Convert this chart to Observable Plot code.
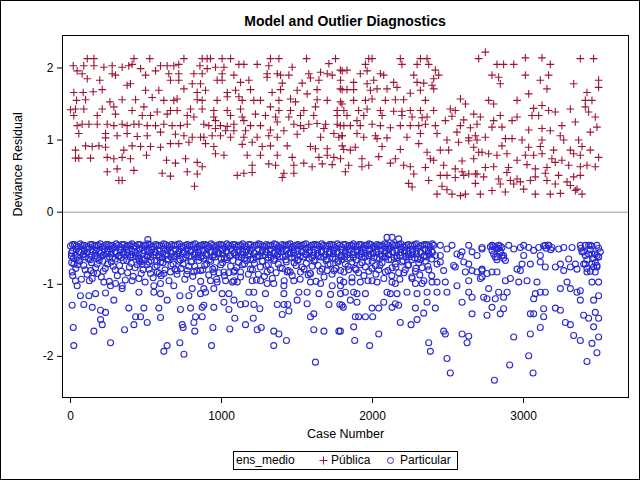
<!DOCTYPE html>
<html>
<head>
<meta charset="utf-8">
<script src="https://cdn.jsdelivr.net/npm/d3@7"></script>
<script src="https://cdn.jsdelivr.net/npm/@observablehq/plot@0.6"></script>
<style>
  html, body { margin: 0; padding: 0; background: #fff; }
  #wrap { position: relative; width: 640px; height: 480px; overflow: hidden; font-family: "Liberation Sans", Arial, sans-serif; background: #fff; }
  #border { position: absolute; left: 0; top: 0; width: 640px; height: 480px; box-sizing: border-box; border: 1px solid #000; pointer-events: none; z-index: 5; }
  #chart { position: absolute; left: 0; top: 0; }
  #title { position: absolute; left: 62px; top: 14px; width: 566px; text-align: center; font-weight: bold; font-size: 14px; line-height: 14px; color: #000; z-index: 3; }
  #legend { position: absolute; left: 233px; top: 451px; width: 225px; height: 19px; box-sizing: border-box; border: 1px solid #000; font-size: 12px; line-height: 17px; color: #000; background: #fff; }
  #legend span, #legend svg { position: absolute; }
</style>
</head>
<body>
<div id="wrap">
  <div id="chart"></div>
  <div id="title">Model and Outlier Diagnostics</div>
  <div id="legend"></div>
  <div id="border"></div>
</div>
<script>
// ---- data (case number, deviance residual) ----
const legendTitle = "ens_medio";
const seriesNames = ["Pública", "Particular"];
const xTicks = [0, 1000, 2000, 3000];
const yTicks = [-2, -1, 0, 1, 2];

const publica = [
[111,2.13],[155,2.13],[420,2.13],[525,2.13],[751,2.13],
[18,2.03],[88,2.03],[155,2.03],[221,2.01],[276,2.03],[342,2.01],[386,2.03],[408,2.05],[464,1.99],[596,2.03],[640,2.03],[684,2.03],[717,2.05],[857,2.03],
[44,1.96],[77,1.92],[276,1.92],[298,1.90],[497,1.90],[563,1.96],[651,1.92],[717,1.92],[817,1.92],
[111,1.85],[194,1.83],[662,1.83],[717,1.83],
[375,1.76],[397,1.78],[806,1.78],[861,1.78],
[22,1.66],[84,1.66],[150,1.67],[210,1.70],[497,1.69],[585,1.69],[751,1.71],[839,1.66],
[40,1.55],[100,1.56],[261,1.53],[342,1.56],[431,1.56],[541,1.59],[618,1.55],[684,1.55],[706,1.57],[839,1.56],
[0,1.42],[33,1.43],[88,1.43],[210,1.43],[287,1.46],[408,1.41],[486,1.46],[574,1.39],[662,1.41],[706,1.41],[795,1.43],
[22,1.34],[177,1.34],[298,1.36],[475,1.34],[530,1.34],[640,1.36],[773,1.34],[817,1.32],
[44,1.20],[77,1.22],[122,1.22],[177,1.22],[243,1.22],[287,1.20],[342,1.22],[375,1.20],[420,1.22],[453,1.22],[508,1.20],[563,1.20],[618,1.22],[673,1.20],[728,1.20],[773,1.22],
[55,1.09],[232,1.09],[309,1.06],[375,1.09],[442,1.05],[508,1.06],[596,1.11],[695,1.08],[751,1.06],[806,1.04],[861,1.04],[232,1.03],
[33,0.86],[100,0.92],[144,0.91],[188,0.92],[232,0.90],[353,0.86],[408,0.92],[464,0.91],[530,0.91],[596,0.90],[662,0.95],[717,0.95],[784,0.97],
[33,0.75],[55,0.75],[133,0.75],[243,0.76],[287,0.74],[342,0.76],[397,0.74],[503,0.79],[636,0.72],[695,0.68],[762,0.74],[839,0.69],
[243,0.56],[309,0.60],[420,0.58],[607,0.54],[662,0.50],[773,0.56],[839,0.53],
[320,0.44],[342,0.44],[821,0.36],
[872,2.13],[905,2.13],[927,2.13],[1004,2.13],[1060,2.13],[1324,2.13],[1380,2.13],[1563,2.13],[1755,2.13],
[905,1.99],[960,2.01],[1016,2.01],[1115,2.05],[1148,2.05],[1236,2.05],[1313,2.03],[1468,2.01],[1711,2.06],
[872,1.92],[1004,1.92],[1082,1.90],[1302,1.92],[1369,1.92],[1391,1.90],[1446,1.90],[1578,1.92],[1656,1.94],[1700,1.92],[1733,1.90],[1799,1.96],
[971,1.83],[1004,1.83],[1126,1.80],[1181,1.83],[1302,1.87],[1402,1.79],[1534,1.79],[1589,1.86],[1645,1.83],[1788,1.83],
[894,1.69],[1038,1.66],[1093,1.69],[1192,1.70],[1335,1.66],[1391,1.70],[1501,1.69],[1567,1.64],[1633,1.70],[1799,1.70],
[872,1.55],[971,1.55],[1038,1.60],[1115,1.60],[1137,1.55],[1214,1.55],[1258,1.55],[1380,1.55],[1457,1.57],[1490,1.53],[1633,1.56],[1700,1.55],[1788,1.53],
[872,1.43],[949,1.41],[1038,1.41],[1126,1.43],[1324,1.46],[1380,1.41],[1457,1.41],[1545,1.41],[1622,1.46],[1766,1.41],[1810,1.41],
[949,1.32],[1060,1.34],[1137,1.32],[1225,1.36],[1291,1.34],[1358,1.32],[1446,1.32],[1523,1.34],[1611,1.34],[1766,1.34],
[883,1.22],[916,1.20],[960,1.27],[993,1.20],[1038,1.19],[1082,1.22],[1148,1.27],[1192,1.20],[1258,1.20],[1369,1.25],[1479,1.22],[1523,1.20],[1578,1.22],[1633,1.23],[1689,1.22],[1766,1.22],[1810,1.20],
[960,1.16],[1027,1.13],[1082,1.13],[1159,1.13],[1324,1.14],[1413,1.13],[1545,1.16],[1678,1.16],[1744,1.09],
[883,1.04],[938,1.06],[993,1.06],[1060,1.04],[1148,1.04],[1236,1.04],[1313,1.06],[1369,1.04],[1501,1.08],[1656,1.04],[1777,1.04],[1799,1.06],
[894,0.95],[949,0.91],[1137,0.94],[1203,0.97],[1269,0.91],[1324,0.92],[1435,0.92],[1589,0.91],[1622,0.88],[1700,0.88],[1799,0.92],
[960,0.81],[1016,0.79],[1170,0.79],[1258,0.79],[1369,0.79],[1468,0.76],[1645,0.76],[1700,0.79],[1744,0.76],[1788,0.74],
[872,0.63],[1203,0.65],[1313,0.67],[1358,0.65],[1479,0.65],[1545,0.68],[1600,0.63],[1667,0.67],[1733,0.66],
[1104,0.51],[1148,0.54],[1203,0.55],[1413,0.54],[1479,0.54],[1402,0.48],
[1975,2.13],[1997,2.13],[2184,2.13],[2317,2.13],[2361,2.13],[2703,2.13],
[1953,2.05],[2195,2.05],[2295,2.05],[2372,2.05],
[1787,1.97],[1831,1.97],[1919,1.92],[1964,1.96],[2052,1.92],[2074,1.90],[2273,1.90],[2416,1.97],[2438,1.90],
[1875,1.80],[1964,1.78],[2008,1.83],[2140,1.80],[2295,1.80],[2339,1.79],[2405,1.85],[2394,1.76],
[1787,1.71],[1831,1.70],[1875,1.70],[1986,1.69],[2030,1.71],[2096,1.71],[2162,1.73],[2250,1.65],[2317,1.69],[2405,1.71],
[1798,1.50],[1875,1.55],[1953,1.55],[1997,1.57],[2085,1.55],[2151,1.56],[2206,1.56],[2350,1.55],[2582,1.57],[2615,1.50],
[1831,1.34],[1908,1.41],[1964,1.43],[2052,1.41],[2140,1.40],[2195,1.40],[2250,1.41],[2317,1.41],[2405,1.41],[2515,1.43],[2548,1.41],[2670,1.36],
[1897,1.27],[1942,1.34],[2063,1.34],[2195,1.34],[2262,1.32],[2328,1.31],[2361,1.32],[2526,1.33],[2604,1.28],
[1787,1.20],[1853,1.20],[1919,1.20],[1997,1.22],[2052,1.20],[2118,1.17],[2184,1.20],[2250,1.20],[2306,1.20],[2350,1.22],[2416,1.20],[2482,1.27],[2582,1.20],[2648,1.17],[2692,1.22],
[1798,1.06],[1897,1.09],[1942,1.04],[2019,1.06],[2030,1.02],[2096,1.03],[2228,1.04],[2317,1.09],[2427,1.09],[2559,1.11],[2681,1.06],[2637,1.03],[2692,1.00],
[2493,1.00],[2570,0.97],[2637,0.99],[2306,0.95],[2063,0.91],[2670,0.90],
[1809,0.87],[1853,0.86],[1886,0.90],[2184,0.87],[2361,0.83],[2449,0.86],[2504,0.86],[2703,0.83],
[1930,0.74],[2041,0.77],[2118,0.68],[2151,0.74],[2383,0.74],[2405,0.72],[2593,0.71],[2670,0.74],
[1842,0.65],[1930,0.63],[1975,0.65],[2206,0.65],[2250,0.63],[2350,0.62],[2471,0.65],[2548,0.60],[2593,0.56],[2637,0.53],[2692,0.53],
[1820,0.56],[2273,0.53],[2372,0.44],[2449,0.51],[2493,0.51],[2548,0.48],[2604,0.51],[2681,0.53],
[2239,0.40],[2262,0.35],[2460,0.36],[2493,0.31],[2681,0.40],
[2427,0.25],[2526,0.25],[2582,0.23],[2615,0.25],
[2747,2.22],[2824,2.05],[2868,2.05],[2935,2.05],[3012,2.14],[3122,2.14],[3177,2.05],[3376,2.13],[3464,2.13],
[2791,1.90],[2835,1.87],[3012,1.90],[3166,1.90],[3111,1.83],[3155,1.71],[2846,1.78],[3332,1.78],[3497,1.83],[3497,1.73],
[3034,1.64],[3420,1.66],
[2769,1.55],[2802,1.50],[2957,1.55],[3409,1.55],[3453,1.55],
[3067,1.44],[3122,1.48],[3166,1.41],[3210,1.39],[3310,1.43],[3409,1.46],[3431,1.39],
[2714,1.32],[2802,1.27],[2846,1.34],[2924,1.27],[2957,1.32],[3056,1.34],[3100,1.34],[3254,1.20],[3343,1.25],[3475,1.32],
[2791,1.18],[2857,1.18],[3034,1.14],[3122,1.16],[3177,1.13],[3243,1.06],[3442,1.11],[3486,1.18],
[2880,1.02],[2924,1.02],[2990,1.00],[3122,1.00],[3266,1.00],[3365,1.00],[2747,1.04],
[2857,0.92],[3034,0.90],[3111,0.91],[3199,0.86],[3310,0.86],[3387,0.91],[3442,0.86],
[2725,0.83],[2769,0.81],[2824,0.79],[2890,0.81],[3012,0.79],[3067,0.79],[3122,0.81],[3188,0.74],[3254,0.72],[3332,0.81],[3376,0.79],[3497,0.76],
[2747,0.62],[2802,0.63],[2901,0.62],[2957,0.72],[3023,0.66],[3078,0.60],[3155,0.62],[3210,0.69],[3299,0.65],[3376,0.63],[3420,0.65],[3475,0.63],
[2736,0.49],[2835,0.46],[2890,0.55],[2913,0.44],[2979,0.42],[3078,0.49],[3144,0.54],[3232,0.51],[3288,0.42],[3332,0.49],[3376,0.51],
[2714,0.25],[2791,0.30],[2879,0.28],[3001,0.32],[3078,0.25],[3177,0.25],[3244,0.26],[3343,0.30],[3387,0.25],
[2846,0.39],[2935,0.39],[3045,0.44],[3210,0.39],[3310,0.37],[3354,0.32],[2957,0.46],[3155,0.44]
];

const particularBand = [
[0,-0.47],[26,-0.45],[51,-0.48],[79,-0.46],[104,-0.49],[131,-0.45],[158,-0.47],[183,-0.46],[211,-0.48],[236,-0.45],[262,-0.47],[290,-0.49],[316,-0.46],[341,-0.45],[369,-0.48],[394,-0.46],[420,-0.47],[447,-0.45],[473,-0.49],[498,-0.46],[526,-0.45],[551,-0.48],[577,-0.46],[604,-0.47],[630,-0.45],[655,-0.49],[683,-0.46],[708,-0.45],[734,-0.48],[761,-0.46],[787,-0.47],[812,-0.45],[840,-0.49],[865,-0.46],[891,-0.45],[918,-0.48],[944,-0.46],[969,-0.47],[997,-0.45],[1022,-0.49],[1048,-0.46],[1075,-0.45],[1101,-0.48],[1126,-0.46],[1154,-0.47],[1179,-0.45],[1205,-0.49],[1232,-0.46],[1258,-0.45],[1283,-0.48],[1311,-0.46],[1336,-0.47],[1362,-0.45],[1389,-0.49],[1415,-0.46],[1440,-0.45],[1468,-0.48],[1493,-0.46],[1519,-0.47],[1546,-0.45],[1572,-0.49],[1597,-0.46],[1625,-0.45],[1650,-0.48],[1676,-0.46],[1703,-0.47],[1729,-0.45],[1754,-0.49],[1782,-0.46],[1807,-0.45],[1833,-0.48],[1860,-0.46],[1886,-0.47],[1911,-0.45],[1939,-0.49],[1964,-0.46],[1990,-0.45],[2017,-0.48],[2043,-0.46],[2068,-0.47],[2096,-0.45],[2121,-0.49],[2147,-0.46],[2174,-0.45],[2200,-0.48],[2225,-0.46],[2253,-0.47],[2278,-0.45],[2304,-0.49],[2331,-0.46],[2357,-0.45],[2382,-0.48],
[13,-0.45],[38,-0.47],[65,-0.44],[91,-0.46],[117,-0.48],[144,-0.45],[170,-0.46],[197,-0.44],[223,-0.47],[249,-0.45],[276,-0.46],[303,-0.44],[328,-0.48],[355,-0.45],[381,-0.46],[407,-0.44],[433,-0.47],[460,-0.45],[486,-0.46],[512,-0.44],[538,-0.48],[564,-0.45],[590,-0.46],[617,-0.44],[642,-0.47],[669,-0.45],[695,-0.46],[721,-0.44],[748,-0.48],[774,-0.45],[800,-0.46],[826,-0.44],[852,-0.47],[878,-0.45],[905,-0.46],[931,-0.44],[957,-0.48],[983,-0.45],[1009,-0.46],[1035,-0.44],[1062,-0.47],[1088,-0.45],[1114,-0.46],[1140,-0.44],[1166,-0.48],[1192,-0.45],[1219,-0.46],[1245,-0.44],[1271,-0.47],[1297,-0.45],[1323,-0.46],[1349,-0.44],[1376,-0.48],[1402,-0.45],[1428,-0.46],[1454,-0.44],[1480,-0.47],[1506,-0.45],[1533,-0.46],[1559,-0.44],[1585,-0.48],[1611,-0.45],[1637,-0.46],[1663,-0.44],[1690,-0.47],[1716,-0.45],[1742,-0.46],[1768,-0.44],[1794,-0.48],[1820,-0.45],[1847,-0.46],[1873,-0.44],[1899,-0.47],[1925,-0.45],[1951,-0.46],[1977,-0.44],[2004,-0.48],[2030,-0.45],[2056,-0.46],[2082,-0.44],[2108,-0.47],[2134,-0.45],[2161,-0.46],[2187,-0.44],[2213,-0.48],[2239,-0.45],[2265,-0.46],[2291,-0.44],[2318,-0.47],[2344,-0.45],[2370,-0.46],[2396,-0.44],
[13,-0.54],[39,-0.52],[66,-0.56],[92,-0.53],[117,-0.51],[145,-0.55],[170,-0.53],[197,-0.57],[224,-0.52],[249,-0.54],[276,-0.51],[303,-0.56],[328,-0.53],[355,-0.55],[382,-0.52],[407,-0.54],[434,-0.57],[460,-0.51],[486,-0.53],[512,-0.55],[539,-0.52],[564,-0.56],[591,-0.54],[617,-0.51],[643,-0.53],[669,-0.57],[695,-0.52],[721,-0.54],[748,-0.55],[774,-0.51],[800,-0.53],[826,-0.56],[852,-0.52],[878,-0.54],[905,-0.51],[931,-0.55],[957,-0.53],[983,-0.57],[1009,-0.52],[1035,-0.54],[1062,-0.51],[1088,-0.56],[1114,-0.53],[1140,-0.55],[1166,-0.52],[1192,-0.54],[1219,-0.57],[1245,-0.51],[1271,-0.53],[1297,-0.55],[1323,-0.52],[1349,-0.56],[1376,-0.54],[1402,-0.51],[1428,-0.53],[1454,-0.57],[1480,-0.52],[1506,-0.54],[1533,-0.55],[1559,-0.51],[1585,-0.53],[1611,-0.56],[1637,-0.52],[1663,-0.54],[1690,-0.51],[1716,-0.55],[1742,-0.53],[1768,-0.57],[1794,-0.52],[1820,-0.54],[1847,-0.51],[1873,-0.56],[1899,-0.53],[1925,-0.55],[1951,-0.52],[1977,-0.54],[2004,-0.57],[2030,-0.51],[2056,-0.53],[2082,-0.55],[2108,-0.52],[2134,-0.56],[2161,-0.54],[2187,-0.51],[2213,-0.53],[2239,-0.57],[2265,-0.52],[2291,-0.54],[2318,-0.55],[2344,-0.51],[2370,-0.53],[2396,-0.56],
[6,-0.57],[32,-0.59],[58,-0.55],[85,-0.58],[111,-0.56],[137,-0.60],[164,-0.57],[190,-0.55],[217,-0.59],[243,-0.56],[269,-0.58],[296,-0.55],[322,-0.60],[348,-0.57],[375,-0.56],[401,-0.59],[427,-0.55],[453,-0.58],[480,-0.57],[506,-0.60],[532,-0.56],[558,-0.55],[585,-0.59],[611,-0.57],[637,-0.58],[663,-0.55],[690,-0.60],[716,-0.56],[742,-0.57],[768,-0.59],[795,-0.55],[821,-0.58],[847,-0.56],[873,-0.60],[900,-0.57],[926,-0.55],[952,-0.59],[978,-0.56],[1005,-0.58],[1031,-0.55],[1057,-0.60],[1083,-0.57],[1110,-0.56],[1136,-0.59],[1162,-0.55],[1188,-0.58],[1215,-0.57],[1241,-0.60],[1267,-0.56],[1293,-0.55],[1320,-0.59],[1346,-0.57],[1372,-0.58],[1398,-0.55],[1425,-0.60],[1451,-0.56],[1477,-0.57],[1503,-0.59],[1530,-0.55],[1556,-0.58],[1582,-0.56],[1608,-0.60],[1635,-0.57],[1661,-0.55],[1687,-0.59],[1713,-0.56],[1740,-0.58],[1766,-0.55],[1792,-0.60],[1818,-0.57],[1845,-0.56],[1871,-0.59],[1897,-0.55],[1923,-0.58],[1950,-0.57],[1976,-0.60],[2002,-0.56],[2028,-0.55],[2055,-0.59],[2081,-0.57],[2107,-0.58],[2133,-0.55],[2160,-0.60],[2186,-0.56],[2212,-0.57],[2238,-0.59],[2265,-0.55],[2291,-0.58],[2317,-0.56],[2343,-0.60],[2370,-0.57],[2394,-0.55],
[6,-0.61],[45,-0.63],[84,-0.59],[120,-0.65],[162,-0.60],[199,-0.62],[240,-0.58],[277,-0.64],[318,-0.61],[354,-0.59],[396,-0.63],[432,-0.60],[474,-0.66],[511,-0.61],[552,-0.59],[588,-0.63],[629,-0.60],[666,-0.62],[707,-0.58],[744,-0.65],[785,-0.61],[821,-0.59],[863,-0.63],[899,-0.60],[940,-0.62],[977,-0.58],[1018,-0.64],[1055,-0.61],[1096,-0.59],[1132,-0.63],[1174,-0.60],[1210,-0.66],[1251,-0.61],[1288,-0.59],[1329,-0.63],[1366,-0.60],[1407,-0.62],[1443,-0.58],[1485,-0.64],[1521,-0.61],[1562,-0.59],[1599,-0.63],[1640,-0.60],[1677,-0.62],[1718,-0.58],[1754,-0.65],[1796,-0.61],[1832,-0.59],[1873,-0.63],[1910,-0.60],[1951,-0.62],[1988,-0.58],[2029,-0.64],[2065,-0.61],[2107,-0.59],[2143,-0.63],[2184,-0.60],[2221,-0.62],[2262,-0.58],[2299,-0.65],[2340,-0.61],[2376,-0.59],
[20,-0.64],[52,-0.67],[99,-0.62],[131,-0.66],[178,-0.63],[215,-0.68],[258,-0.62],[297,-0.65],[336,-0.63],[373,-0.67],[414,-0.62],[451,-0.64],[493,-0.66],[530,-0.62],[570,-0.68],[608,-0.63],[648,-0.65],[686,-0.62],[726,-0.66],[763,-0.63],[803,-0.68],[842,-0.62],[882,-0.64],[920,-0.66],[959,-0.62],[998,-0.65],[1037,-0.63],[1076,-0.67],[1115,-0.62],[1153,-0.64],[1192,-0.66],[1231,-0.62],[1270,-0.68],[1309,-0.63],[1347,-0.65],[1386,-0.62],[1425,-0.66],[1464,-0.63],[1503,-0.67],[1542,-0.62],[1580,-0.64],[1619,-0.66],[1658,-0.62],[1697,-0.65],[1736,-0.63],[1775,-0.67],[1814,-0.62],[1852,-0.64],[1891,-0.66],[1930,-0.62],[1969,-0.68],[2008,-0.63],[2047,-0.65],[2085,-0.62],[2124,-0.66],[2163,-0.63],[2202,-0.67],[2241,-0.62],[2280,-0.64],[2318,-0.66],[2357,-0.62],[2392,-0.65],
[8,-0.70],[35,-0.78],[61,-0.68],[88,-0.74],[110,-0.86],[139,-0.70],[166,-0.77],[190,-0.67],[217,-0.82],[245,-0.72],[270,-0.69],[296,-0.80],[325,-0.74],[350,-0.67],[378,-0.84],[402,-0.71],[428,-0.77],[456,-0.68],[481,-0.80],[507,-0.73],[534,-0.67],[560,-0.76],[587,-0.85],[612,-0.70],[640,-0.66],[665,-0.74],[692,-0.79],[718,-0.68],[745,-0.72],[770,-0.86],[798,-0.69],[823,-0.75],[850,-0.67],[876,-0.80],[902,-0.72],[929,-0.68],[955,-0.77],[982,-0.84],[1007,-0.70],[1034,-0.66],[1060,-0.75],[1087,-0.81],[1112,-0.69],[1139,-0.73],[1165,-0.67],[1192,-0.79],[1218,-0.71],[1244,-0.86],[1271,-0.68],[1297,-0.74],[1324,-0.80],[1349,-0.67],[1376,-0.72],[1402,-0.78],[1429,-0.69],[1455,-0.83],[1481,-0.70],[1508,-0.66],[1534,-0.76],[1561,-0.71],[1587,-0.85],[1613,-0.68],[1640,-0.74],[1666,-0.79],[1692,-0.67],[1719,-0.72],[1745,-0.81],[1771,-0.69],
[1798,-0.66],[1820,-0.72],[1842,-0.80],[1864,-0.69],[1886,-0.78],[1908,-0.84],[1930,-0.70],[1953,-0.76],[1975,-0.82],[1997,-0.68],[2019,-0.74],[2041,-0.80],[2063,-0.70],[2085,-0.83],[2107,-0.66],[2129,-0.77],[2151,-0.72],[2173,-0.84],[2195,-0.69],[2217,-0.80],[2239,-0.73],[2261,-0.66],[2284,-0.82],[2306,-0.70],[2328,-0.77],[2350,-0.68],[2372,-0.80],
[15,-0.88],[48,-0.73],[72,-0.93],[97,-0.80],[125,-0.95],[152,-0.84],[176,-0.72],[204,-0.90],[230,-0.78],[257,-0.96],[283,-0.75],[310,-0.88],[337,-0.82],[363,-0.94],[390,-0.76],[415,-0.89],[442,-0.73],[468,-0.85],[494,-0.97],[520,-0.79],[547,-0.91],[573,-0.74],[600,-0.88],[626,-0.80],[652,-0.95],[679,-0.72],[705,-0.86],[732,-0.78],[757,-0.93],[784,-0.75],[810,-0.89],[837,-0.81],[862,-0.96],[889,-0.74],[915,-0.87],[942,-0.79],[968,-0.93],[995,-0.73],[1020,-0.88],[1047,-0.84],[1073,-0.97],[1099,-0.77],[1126,-0.90],[1152,-0.72],[1178,-0.86],[1205,-0.80],[1231,-0.94],[1257,-0.76],[1284,-0.89],[1310,-0.73],[1337,-0.92],[1362,-0.84],[1389,-0.77],[1415,-0.95],[1442,-0.81],[1468,-0.88],[1494,-0.74],[1521,-0.93],[1547,-0.79],[1574,-0.87],[1600,-0.75],[1626,-0.96],[1653,-0.82],[1679,-0.90],[1705,-0.73],[1732,-0.86],[1758,-0.78],[1785,-0.94],[1811,-0.83],[1838,-0.75],[1864,-0.91],[1891,-0.80],[1917,-0.73],[1943,-0.88],[1970,-0.95],[1996,-0.78],[2022,-0.86],[2049,-0.74],[2075,-0.92],[2102,-0.81],[2128,-0.88],[2155,-0.76],[2181,-0.93],[2208,-0.84],[2234,-0.74],[2260,-0.90],[2287,-0.78],[2313,-0.87],[2340,-0.95],[2366,-0.75],[2392,-0.88],
[2405,-0.46],[2449,-0.46],[2493,-0.51],[2526,-0.46],[2559,-0.58],[2593,-0.55],[2637,-0.46],[2659,-0.55],[2692,-0.60],[2725,-0.49],
[2537,-0.74],[2582,-0.60],[2604,-0.69],[2637,-0.72],[2548,-0.76],[2615,-0.83],[2659,-0.81],[2692,-0.83],[2725,-0.81],[2714,-0.92],[2449,-0.69],[2471,-0.81],[2427,-0.72],[2416,-0.60],[2449,-0.60]
];

const particularScatter = [
[512,-0.38],[2096,-0.35],[2129,-0.35],[2173,-0.37],
[22,-0.72],[11,-0.83],[33,-0.95],[44,-1.02],[133,-0.81],[177,-0.85],[144,-0.92],[221,-0.97],[265,-1.02],[298,-0.99],[342,-1.02],[408,-0.95],[453,-0.92],[475,-0.72],[530,-0.85],[574,-0.83],[618,-0.85],[662,-0.83],[706,-0.81],[773,-0.81],[817,-0.83],[861,-0.81],[464,-0.69],[519,-0.69],[596,-0.69],
[66,-1.16],[122,-1.16],[166,-1.13],[232,-1.12],[342,-1.06],[453,-1.11],[552,-1.11],[596,-1.13],[640,-1.22],[724,-1.16],[784,-1.16],[861,-1.13],[883,-1.06],[806,-1.06],[684,-1.02],[596,-0.99],[552,-1.02],
[11,-1.29],[88,-1.28],[144,-1.32],[199,-1.36],[232,-1.39],[287,-1.22],[386,-1.33],[486,-1.33],[585,-1.33],[596,-1.46],[728,-1.35],[795,-1.33],[872,-1.32],
[199,-1.49],[210,-1.56],[431,-1.45],[464,-1.45],[508,-1.53],[420,-1.56],[817,-1.53],[740,-1.56],[828,-1.45],
[18,-1.60],[155,-1.65],[358,-1.63],[746,-1.60],[823,-1.65],
[22,-1.85],[265,-1.81],[640,-1.85],[618,-1.93],[724,-1.81],[751,-1.97],
[949,-0.83],[1016,-0.83],[1082,-0.83],[1126,-0.83],[1302,-0.83],[1435,-0.83],[1523,-0.83],[1589,-0.85],[1700,-0.81],[1788,-0.81],
[927,-0.95],[971,-0.97],[1027,-0.95],[1082,-0.95],[1104,-0.97],[1203,-0.95],[1258,-0.95],[1302,-0.99],[1346,-0.99],[1413,-1.02],[1479,-0.95],[1589,-0.97],[1656,-0.99],[1733,-1.02],[1788,-1.02],
[894,-1.11],[949,-1.06],[1004,-1.13],[1049,-1.13],[1181,-1.11],[1214,-1.11],[1291,-1.13],[1413,-1.13],[1512,-1.11],[1567,-1.11],[1645,-1.13],[1722,-1.14],[1788,-1.13],
[883,-1.29],[949,-1.32],[1016,-1.25],[1049,-1.35],[1082,-1.22],[1126,-1.28],[1159,-1.27],[1214,-1.28],[1254,-1.34],[1369,-1.28],[1413,-1.28],[1439,-1.28],[1501,-1.22],[1567,-1.27],[1711,-1.28],[1784,-1.28],[1806,-1.32],
[872,-1.45],[1088,-1.47],[1210,-1.47],[1402,-1.42],[1446,-1.37],[1589,-1.45],[1611,-1.41],
[943,-1.60],[1055,-1.62],[1159,-1.56],[1236,-1.63],[1263,-1.60],[1346,-1.65],[1380,-1.69],[1430,-1.78],[1611,-1.63],[1678,-1.65],[1777,-1.65],
[934,-1.85],[1346,-1.85],[1622,-2.08],
[1809,-0.97],[1864,-0.97],[1919,-0.97],[1997,-0.95],[2030,-0.97],[2129,-0.97],[2151,-0.99],[2262,-0.92],[2284,-0.99],[2328,-0.99],[2394,-0.97],[2427,-0.97],[2482,-0.97],[2559,-1.02],[2637,-0.95],[2725,-0.90],
[1820,-1.11],[1875,-1.11],[1897,-1.13],[1953,-1.13],[2096,-1.11],[2118,-1.13],[2162,-1.13],[2228,-1.11],[2295,-1.13],[2361,-1.11],[2427,-1.11],[2493,-1.11],[2637,-1.11],[2659,-1.18],
[1798,-1.29],[1853,-1.22],[1897,-1.25],[1997,-1.33],[2041,-1.33],[2074,-1.25],[2129,-1.32],[2151,-1.27],[2173,-1.29],[2284,-1.33],[2339,-1.40],[2361,-1.25],[2416,-1.33],[2593,-1.25],[2659,-1.41],[2736,-1.18],
[1886,-1.45],[1908,-1.45],[1953,-1.45],[2001,-1.45],[2184,-1.53],[2255,-1.56],[2295,-1.49],
[1787,-1.65],[1875,-1.59],[1882,-1.78],[1981,-1.85],[2041,-1.69],[2471,-1.65],[2482,-1.69],[2593,-1.69],[2637,-1.72],[2626,-1.81],[2372,-1.81],[2383,-1.93],
[2493,-2.03],[2515,-2.23],
[2725,-0.51],[2791,-0.46],[2813,-0.49],[2835,-0.46],[2857,-0.49],[2846,-0.55],[2868,-0.60],[2880,-0.67],[2824,-0.62],[2902,-0.46],[2935,-0.51],[2979,-0.49],[3001,-0.46],[3034,-0.49],[3067,-0.53],[3100,-0.49],[3144,-0.46],[3166,-0.46],[3188,-0.49],[3233,-0.51],[3266,-0.49],[3321,-0.49],[3376,-0.46],[3409,-0.46],[3442,-0.46],[3486,-0.46],[3387,-0.55],[3431,-0.58],[3475,-0.58],[3497,-0.62],[3409,-0.72],[3453,-0.72],[3486,-0.74],[3420,-0.83],[3475,-0.83],
[3001,-0.60],[2990,-0.72],[3045,-0.72],[3111,-0.69],[3144,-0.76],[3211,-0.76],[3244,-0.72],[3266,-0.81],[3310,-0.76],[3343,-0.72],[3354,-0.79],[3299,-0.65],[3111,-0.60],[2957,-0.79],[2979,-0.81],[2725,-0.79],[2758,-0.85],[2791,-0.83],[2824,-0.83],
[2880,-0.95],[2913,-0.92],[2968,-0.97],[3023,-0.95],[3089,-0.97],[3244,-1.06],[3288,-0.97],[3310,-1.06],[3354,-1.11],[3376,-1.09],[3453,-0.97],[3497,-0.97],[2769,-1.06],[2835,-1.11],[2891,-1.11],[3078,-1.13],[3111,-1.11],[3144,-1.11],
[2758,-1.20],[2813,-1.20],[2868,-1.18],[3067,-1.20],[3464,-1.22],[3497,-1.16],[3376,-1.22],[2791,-1.32],[2868,-1.34],[2758,-1.43],[2846,-1.41],[3045,-1.41],[3067,-1.41],[3133,-1.34],[3133,-1.45],[3211,-1.33],[3244,-1.36],[3277,-1.53],[3310,-1.56],[3398,-1.43],[3431,-1.47],[3475,-1.39],[3497,-1.47],
[3111,-1.60],[3045,-1.69],[2935,-1.73],[3332,-1.71],[3376,-1.78],[3464,-1.59],[3497,-1.73],[3453,-1.82],[3486,-1.95],[3034,-1.99],[3420,-2.07],[2908,-2.12],[3063,-2.23],[2807,-2.33],
[2780,-0.48],[2791,-0.53],[2802,-0.58],[2813,-0.62],[2824,-0.66],[2835,-0.50],[2846,-0.56],[2857,-0.60],[2868,-0.64],[2802,-0.47],[2824,-0.51],[2846,-0.47],
[3380,-0.50],[3398,-0.55],[3409,-0.60],[3420,-0.66],[3442,-0.52],[3453,-0.58],[3464,-0.64],[3475,-0.70],[3486,-0.76],[3497,-0.50],[3398,-0.72],[3420,-0.78],[3442,-0.82],[3464,-0.76],[3486,-0.60],[3431,-0.46],[3453,-0.47],[3497,-0.62],[3508,-0.55],
[3133,-0.47],[3150,-0.50],[3166,-0.46],[3180,-0.52]
];

const particular = particularBand.concat(particularScatter);

// ---- styling ----
const red = "#A01232";
const blue = "#2A2AD4";
const font = "'Liberation Sans', Arial, Helvetica, sans-serif";

const chart = Plot.plot({
  width: 640,
  height: 450,
  marginTop: 35,
  marginLeft: 62,
  marginRight: 12,
  marginBottom: 53,
  style: { fontFamily: font, fontSize: "12px", color: "#000", background: "transparent", overflow: "visible" },
  x: { domain: [-53, 3695], ticks: xTicks, tickSize: 6, tickPadding: 8, label: null, tickFormat: d => String(d) },
  y: { domain: [-2.57, 2.45], ticks: yTicks, tickSize: 5, tickPadding: 4, label: null, tickFormat: d => d < 0 ? "-" + Math.abs(d) : String(d) },
  marks: [
    Plot.ruleY([0], { stroke: "#9a9a9a", strokeWidth: 1 }),
    Plot.dot(publica, { x: d => d[0], y: d => d[1], symbol: "plus", r: 2.6, stroke: red, fill: "none", strokeWidth: 1.1 }),
    Plot.dot(particular, { x: d => d[0], y: d => d[1], symbol: "circle", r: 3, stroke: blue, fill: "none", strokeWidth: 1.1 }),
    Plot.frame({ stroke: "#000", strokeWidth: 1 }),
    Plot.text(["Case Number"], { frameAnchor: "bottom", dy: 40, fontSize: 12.5, fill: "#000" }),
    Plot.text(["Deviance Residual"], { frameAnchor: "left", dx: -45, rotate: -90, fontSize: 12.5, fill: "#000" })
  ]
});
document.getElementById("chart").appendChild(chart);

// ---- legend ----
const lg = document.getElementById("legend");
lg.innerHTML =
  `<span style="left:2px;top:0">${legendTitle}</span>` +
  `<svg width="9" height="9" style="left:85px;top:4px"><path d="M0.5,4.5H8.5M4.5,0.5V8.5" stroke="${red}" stroke-width="1" fill="none"/></svg>` +
  `<span style="left:97px;top:0">${seriesNames[0]}</span>` +
  `<svg width="9" height="9" style="left:152px;top:4px"><circle cx="4.5" cy="4.5" r="3" stroke="${blue}" stroke-width="1" fill="none"/></svg>` +
  `<span style="left:166px;top:0">${seriesNames[1]}</span>`;
</script>
</body>
</html>
